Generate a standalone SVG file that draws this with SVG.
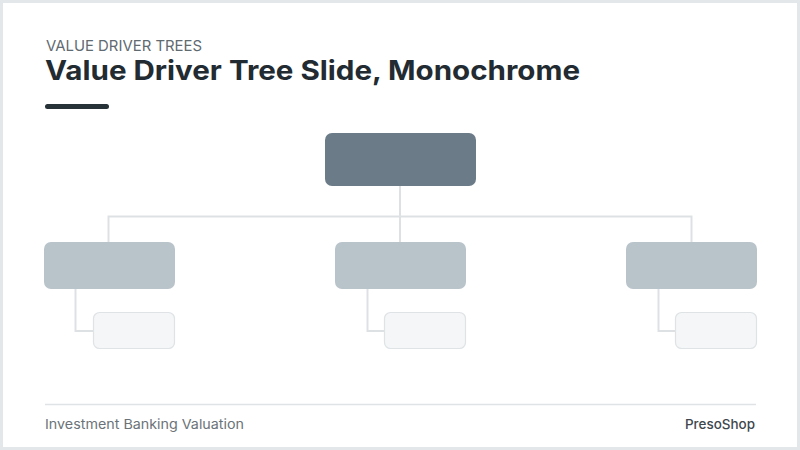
<svg xmlns="http://www.w3.org/2000/svg" width="800" height="450" viewBox="0 0 800 450">
  <style>
    .conn { fill: none; stroke: #dde1e4; stroke-width: 2; }
    .root { fill: #6b7b87; }
    .mid { fill: #b8c3ca; }
    .leaf { fill: #f4f6f7; stroke: #dfe3e6; stroke-width: 1.2; }
    .eyebrow { font-family: Inter, "Liberation Sans", sans-serif; font-size: 14.5px; fill: #5f6a71; }
    .title { font-family: Inter, "Liberation Sans", sans-serif; font-size: 27px; font-weight: 700; fill: #222b31; }
    .foot { font-family: Inter, "Liberation Sans", sans-serif; font-size: 13.5px; fill: #6b7378; }
    .brand { font-family: Inter, "Liberation Sans", sans-serif; font-size: 13.5px; font-weight: 500; fill: #3e474d; }
  </style>
  <rect x="0" y="0" width="800" height="450" fill="#e4e7e9"/>
  <rect x="3" y="3" width="794" height="444" fill="#ffffff"/>

  <g id="header">
    <text class="eyebrow" x="46" y="51" textLength="156" lengthAdjust="spacingAndGlyphs">VALUE DRIVER TREES</text>
    <text class="title" x="45" y="80" textLength="535" lengthAdjust="spacingAndGlyphs">Value Driver Tree Slide, Monochrome</text>
    <rect x="45" y="104" width="64" height="5" rx="2.5" fill="#263238"/>
  </g>

  <g id="connectors">
    <path class="conn" d="M400 186 V242"/>
    <path class="conn" d="M108.5 242 V216.5 H691.5 V242"/>
    <path class="conn" d="M75.5 289 V331 H93"/>
    <path class="conn" d="M367.5 289 V331 H384"/>
    <path class="conn" d="M658.5 289 V331 H675"/>
  </g>

  <g id="node-root"><rect class="root" x="325" y="133" width="151" height="53" rx="7"/></g>
  <g id="node-mid-1"><rect class="mid" x="44" y="242" width="131" height="47" rx="7"/></g>
  <g id="node-mid-2"><rect class="mid" x="335" y="242" width="131" height="47" rx="7"/></g>
  <g id="node-mid-3"><rect class="mid" x="626" y="242" width="131" height="47" rx="7"/></g>
  <g id="node-leaf-1"><rect class="leaf" x="93.5" y="312.5" width="81" height="36" rx="6"/></g>
  <g id="node-leaf-2"><rect class="leaf" x="384.5" y="312.5" width="81" height="36" rx="6"/></g>
  <g id="node-leaf-3"><rect class="leaf" x="675.5" y="312.5" width="81" height="36" rx="6"/></g>

  <g id="footer">
    <line x1="45" y1="404.5" x2="756" y2="404.5" stroke="#e0e3e6" stroke-width="1.5"/>
    <text class="foot" x="45" y="429" textLength="199" lengthAdjust="spacingAndGlyphs">Investment Banking Valuation</text>
    <text class="brand" x="755" y="429" text-anchor="end" textLength="70" lengthAdjust="spacingAndGlyphs">PresoShop</text>
  </g>
</svg>
